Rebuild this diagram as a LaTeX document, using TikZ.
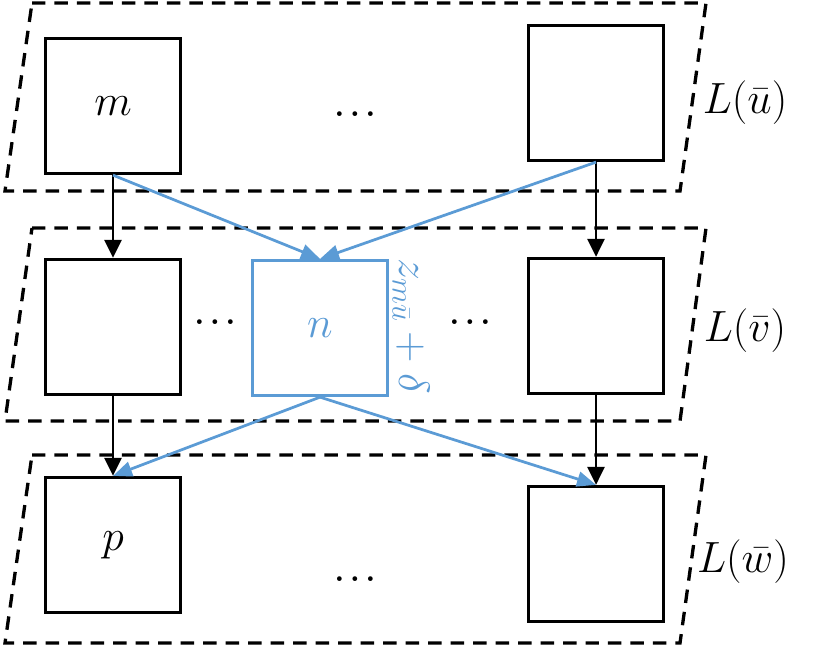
\documentclass[tikz,border=0pt]{standalone}
\usetikzlibrary{positioning, arrows.meta}
\definecolor{figink}{HTML}{000000}
\definecolor{figblue}{HTML}{5B9BD5}

\begin{document}
\begin{tikzpicture}[
  x=0.02cm, y=-0.02cm,
  line width=0.066cm, line join=miter,
  box/.style  = {draw=figink, line width=0.066cm, minimum size=2.7cm,
                 inner sep=0pt, anchor=center, font=\fontsize{26}{30}\selectfont},
  nbox/.style = {box, draw=figblue, text=figblue},
  layer/.style = {draw=figink, line width=0.066cm, dash pattern=on 0.27cm off 0.18cm},
  dots/.style = {font=\fontsize{16}{18}\selectfont\boldmath, inner sep=0pt},
  lbl/.style  = {font=\fontsize{24}{28}\selectfont, inner sep=0pt},
  arr/.style  = {draw=figink, line width=0.055cm, -{Triangle[length=0.36cm, width=0.34cm]}},
  barr/.style = {draw=figblue, line width=0.055cm, -{Triangle[length=0.38cm, width=0.3cm]}}
]
\useasboundingbox (0,0) rectangle (830,647);

% ebenen
\draw[layer] (32,3)   -- (706,3)   -- (680,191) -- (5,191)   -- cycle;
\draw[layer] (32,228) -- (706,228) -- (680,421) -- (5,421)   -- cycle;
\draw[layer] (32,455) -- (706,455) -- (680,643) -- (5,643)   -- cycle;

% obere ebene
\node[box] (m)  at (113,106) {$m$};
\node[box] (ur) at (596,93)  {};
\node[dots] (udots) at (355,114) {$\ldots$};
\node[lbl] (lu) at (745,103) {$L(\bar{u})$};

% mittlere ebene
\node[box]  (vl) at (113,327) {};
\node[nbox] (n)  at (320,328) {$n$};
\node[box]  (vr) at (596,326) {};
\node[dots] (vdots1) at (215,322) {$\ldots$};
\node[dots] (vdots2) at (470,322) {$\ldots$};
\node[lbl] (lv) at (745,331) {$L(\bar{v})$};
\node[lbl, text=figblue, font=\fontsize{26}{30}\selectfont, rotate=-90] (z) at (411,326) {$z_{m\bar{u}}+\delta$};

% untere ebene
\node[box] (p)  at (113,545) {$p$};
\node[box] (wr) at (596,554) {};
\node[dots] (wdots) at (355,579) {$\ldots$};
\node[lbl] (lw) at (743,562) {$L(\bar{w})$};

% schwarze pfeile
\draw[arr] (m.south)  -- (vl.north);
\draw[arr] (ur.south) -- (vr.north);
\draw[arr] (vl.south) -- (p.north);
\draw[arr] (vr.south) -- (wr.north);

% blaue pfeile
\draw[barr] (m.south)  -- (n.north);
\draw[barr] (ur.south) -- (n.north);
\draw[barr] (n.south)  -- (p.north);
\draw[barr] (n.south)  -- (wr.north);

\end{tikzpicture}
\end{document}
